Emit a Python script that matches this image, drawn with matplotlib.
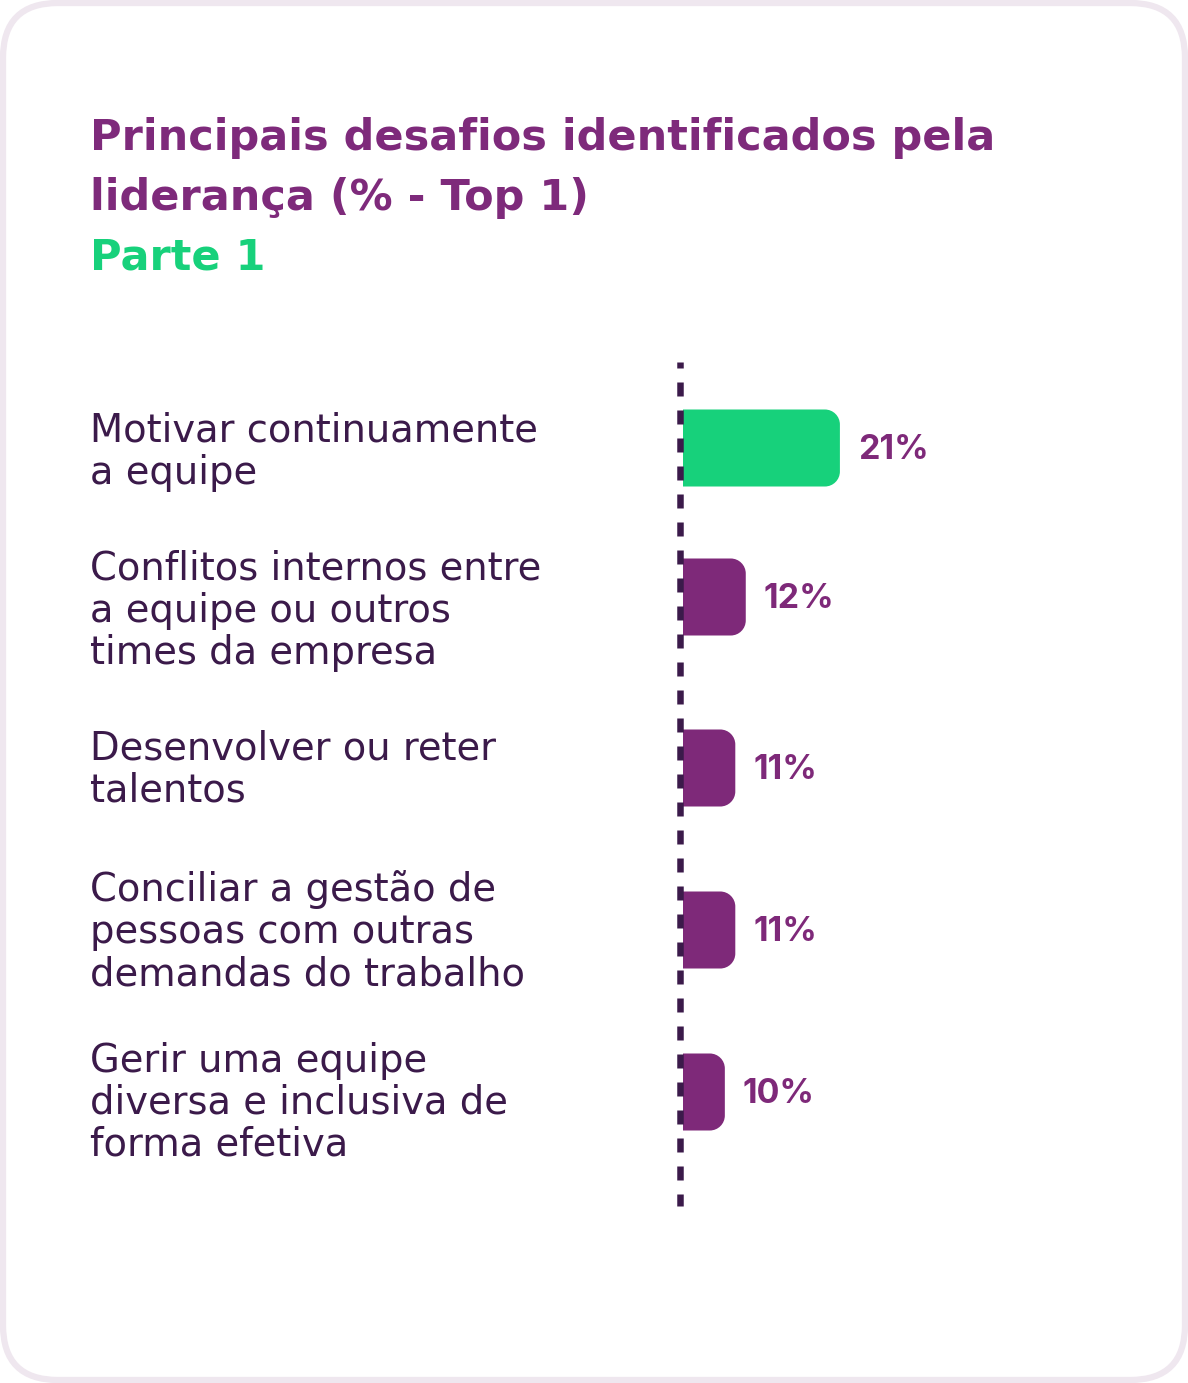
import numpy as np
import matplotlib.pyplot as plt
from matplotlib.patches import FancyBboxPatch, PathPatch
from matplotlib.path import Path

plt.rcParams["font.family"] = ["DejaVu Sans"]

# data
categories = [
    "Motivar continuamente\na equipe",
    "Conflitos internos entre\na equipe ou outros\ntimes da empresa",
    "Desenvolver ou reter\ntalentos",
    "Conciliar a gestão de\npessoas com outras\ndemandas do trabalho",
    "Gerir uma equipe\ndiversa e inclusiva de\nforma efetiva",
]
values = [21, 12, 11, 11, 10]
value_labels = [f"{v}%" for v in values]

# layout (pixels from top)
W, H = 1188, 1383
bar_centers = [448, 597, 768, 930, 1092]
label_baselines = [442, 580, 760, 901, 1072]
line_step = 42
bar_h = 77
base = 6  # axis origin of the bars
px_per_unit = 10.46

GREEN = "#17D17B"
PURPLE = "#7E2979"
DARK = "#3B1A4A"
TITLE = "#7E2A7B"

fig = plt.figure(figsize=(W / 100, H / 100), dpi=100)
bg = fig.add_axes([0, 0, 1, 1])
bg.set_xlim(0, W)
bg.set_ylim(H, 0)
bg.axis("off")

card = FancyBboxPatch((3, 3), W - 6, H - 6, boxstyle="round,pad=0,rounding_size=55",
                      facecolor="white", edgecolor="#EFE7EF", linewidth=4.5)
bg.add_patch(card)

title_size = 43 * 0.72
bg.text(90, 150, "Principais desafios identificados pela", fontsize=title_size,
        fontweight="bold", color=TITLE, va="baseline")
bg.text(90, 210, "liderança (% - Top 1)", fontsize=title_size,
        fontweight="bold", color=TITLE, va="baseline")
bg.text(90, 270, "Parte 1", fontsize=title_size, fontweight="bold",
        color=GREEN, va="baseline")

for lab, yb in zip(categories, label_baselines):
    for k, line in enumerate(lab.split("\n")):
        bg.text(90, yb + k * line_step, line, fontsize=38.5 * 0.72, color=DARK,
                va="baseline")

# bars axes, x in % units starting at the dashed line
x0_px = 683
ax = fig.add_axes([x0_px / W, 0, (W - x0_px) / W, 1])
ax.set_xlim(base, base + (W - x0_px) / px_per_unit)
ax.set_ylim(H, 0)
ax.axis("off")

bars = ax.barh(bar_centers, np.array(values) - base, left=base, height=bar_h,
               color=[GREEN] + [PURPLE] * 4)

rx = 15 / px_per_unit
ry = 15
for b, txt in zip(bars, value_labels):
    x, y = b.get_x(), b.get_y()
    w, h = b.get_width(), b.get_height()
    col = b.get_facecolor()
    b.remove()
    k = 0.5523
    verts = [
        (x, y), (x + w - rx, y),
        (x + w - rx + k * rx, y), (x + w, y + ry - k * ry), (x + w, y + ry),
        (x + w, y + h - ry),
        (x + w, y + h - ry + k * ry), (x + w - rx + k * rx, y + h), (x + w - rx, y + h),
        (x, y + h), (x, y),
    ]
    codes = [Path.MOVETO, Path.LINETO, Path.CURVE4, Path.CURVE4, Path.CURVE4,
             Path.LINETO, Path.CURVE4, Path.CURVE4, Path.CURVE4,
             Path.LINETO, Path.CLOSEPOLY]
    ax.add_patch(PathPatch(Path(verts, codes), facecolor=col, edgecolor="none"))
    ax.text(x + w + 18 / px_per_unit, y + h / 2 + 2, txt, fontsize=34 * 0.72,
            fontweight="bold", color=PURPLE, va="center", ha="left",
            family="Inter")

# dashed axis line
lw_pt = 6.5 * 0.72
u = 0.72 / lw_pt
ax.plot([base - 3.2 / px_per_unit] * 2, [362, 1206], color=DARK, lw=lw_pt,
        linestyle=(8 * u, (14 * u, 14 * u)), solid_capstyle="butt",
        dash_capstyle="butt", clip_on=False)

fig.savefig("out.png", dpi=100)
